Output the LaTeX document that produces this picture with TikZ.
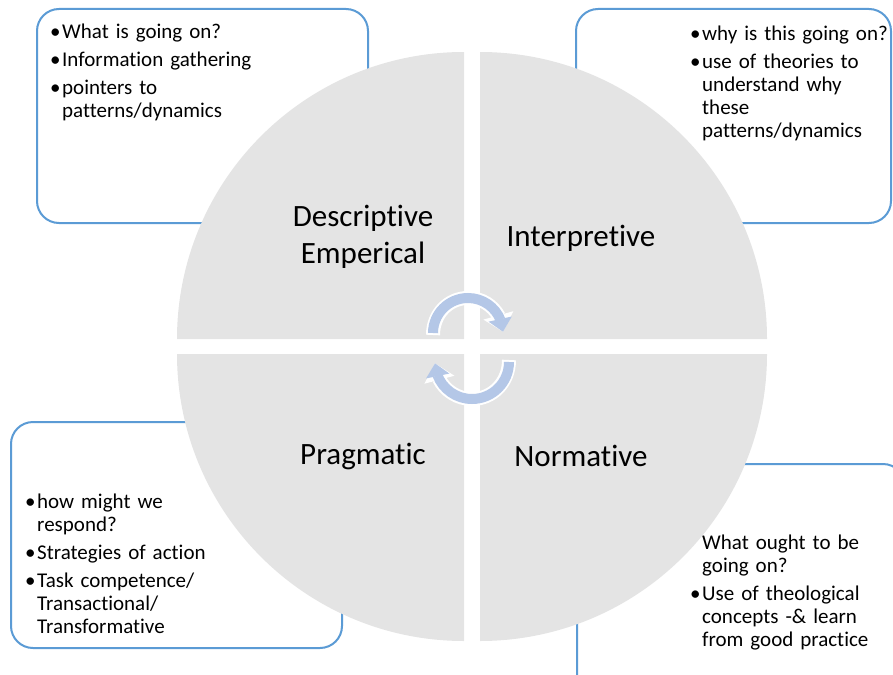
\documentclass[tikz,border=0pt]{standalone}
\usepackage{fontspec}
\setmainfont{Carlito}[Ligatures=NoCommon]
\usepackage{enumitem}
\setlist[itemize]{label=\textbullet,leftmargin=12pt,labelwidth=12pt,labelsep=0pt,align=left,itemsep=5pt,parsep=0pt,topsep=0pt,partopsep=0pt}
\usetikzlibrary{arrows.meta,bending}
\definecolor{boxblue}{RGB}{91,155,213}
\definecolor{quadgray}{RGB}{228,228,228}
\definecolor{cycleblue}{RGB}{180,199,231}
\begin{document}
\begin{tikzpicture}[x=1pt,y=-1pt,
  notebox/.style={draw=boxblue,line width=2pt,rounded corners=22pt,fill=white},
  notes/.style={anchor=north west,inner sep=0pt,text width=#1,align=left,font=\fontsize{21}{23}\selectfont},
  quad/.style={fill=quadgray},
  stage/.style={align=center,inner sep=0pt,font=\fontsize{31}{37}\selectfont},
  cycleedge/.style={draw=white,line width=14pt,shorten <=-2pt,-{Triangle[width=30pt,length=17pt]}},
  cyclearrow/.style={draw=cycleblue,line width=10pt,-{Triangle[width=23pt,length=13pt]}}]
\useasboundingbox (0,0) rectangle (893,674);
\clip (0,0) rectangle (893,674);
% note boxes behind the circle
\draw[notebox] (37,9) rectangle (368,223);
\draw[notebox] (576,9) rectangle (891,223);
\draw[notebox] (11,422) rectangle (342,648);
\draw[notebox] (577,464) rectangle (905,700);
\node[notes=300pt] (whatnotes) at (50,15) {\begin{itemize}
  \item What is going on?
  \item Information gathering
  \item pointers to\newline patterns/dynamics
\end{itemize}};
\node[notes=200pt] (whynotes) at (690,17) {\begin{itemize}
  \item why is this going on?
  \item use of theories to\newline understand why\newline these\newline patterns/dynamics
\end{itemize}};
\node[notes=300pt] (hownotes) at (25,485) {\begin{itemize}
  \item how might we\newline respond?
  \item Strategies of action
  \item Task competence/\newline Transactional/\newline Transformative
\end{itemize}};
\node[notes=200pt] (oughtnotes) at (690,526) {\begin{itemize}
  \item[] What ought to be\newline going on?
  \item Use of theological\newline concepts -\&{} learn\newline from good practice
\end{itemize}};
% the four quarters
\fill[quad] (464,339) -- ++(-287,0) arc[start angle=180,end angle=270,radius=287] -- cycle;
\fill[quad] (480,339) -- ++(287,0) arc[start angle=0,end angle=-90,radius=287] -- cycle;
\fill[quad] (464,354) -- ++(-287,0) arc[start angle=180,end angle=90,radius=287] -- cycle;
\fill[quad] (480,354) -- ++(287,0) arc[start angle=0,end angle=90,radius=287] -- cycle;
\node[stage] (desc) at (363,237) {Descriptive\\Emperical};
\node[stage] (interp) at (581,238) {Interpretive};
\node[stage] (prag) at (363,456) {Pragmatic};
\node[stage] (norm) at (581,456) {Normative};
% cycle arrows in the middle
\draw[cycleedge] (433,333) arc[start angle=180,end angle=358,radius=35];
\draw[cyclearrow] (433,333) arc[start angle=180,end angle=358,radius=35];
\draw[cycleedge] (509,362) arc[start angle=0,end angle=178,radius=37];
\draw[cyclearrow] (509,362) arc[start angle=0,end angle=178,radius=37];
\end{tikzpicture}
\end{document}
